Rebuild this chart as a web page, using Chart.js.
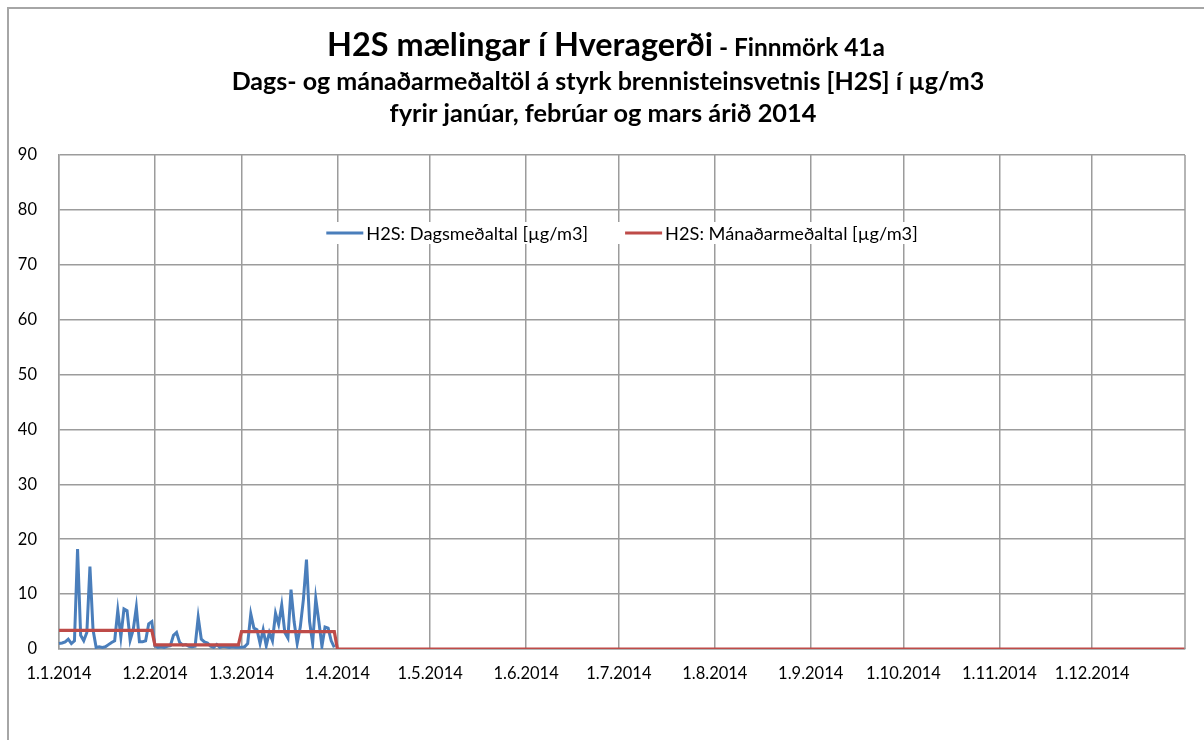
<!DOCTYPE html>
<html>
<head>
<meta charset="utf-8">
<script src="https://cdn.jsdelivr.net/npm/chart.js@4/dist/chart.umd.min.js"></script>
<style>
  body { margin: 0; background: #fff; }
  canvas { display: block; }
</style>
</head>
<body>
<canvas id="myChart" width="1204" height="740"></canvas>
<script>
// texts
const titleMain = 'H2S mælingar í Hveragerði';
const titleSite = ' - Finnmörk 41a';
const subTitles = [
    'Dags- og mánaðarmeðaltöl á styrk brennisteinsvetnis [H2S] í µg/m3',
    'fyrir janúar, febrúar og mars árið 2014'
];
const seriesNames = ['H2S: Dagsmeðaltal [µg/m3]', 'H2S: Mánaðarmeðaltal [µg/m3]'];

// categories
const year = 2014;
const monthDays = [31, 28, 31, 30, 31, 30, 31, 31, 30, 31, 30, 31];
const yTicks = [0, 10, 20, 30, 40, 50, 60, 70, 80, 90];

const janDaily = [1.0, 1.1, 1.3, 1.8, 1.0, 1.5, 18.2, 2.5, 1.5, 3.0, 15.0, 3.5, 0.3, 0.4, 0.3, 0.4,
                  0.8, 1.2, 1.5, 7.0, 2.2, 7.3, 7.0, 1.6, 3.5, 7.6, 1.3, 1.3, 1.5, 4.6, 5.0];
const febDaily = [0.6, 0.3, 0.4, 0.3, 0.5, 0.6, 2.5, 3.0, 1.2, 0.7, 0.8, 0.5, 0.4, 0.5,
                  5.8, 1.8, 1.3, 1.1, 0.5, 0.3, 0.8, 0.3, 0.5, 0.4, 0.3, 0.4, 0.3, 0.3];
const marDaily = [0.3, 0.4, 1.0, 6.4, 3.8, 3.5, 1.0, 3.5, 0.6, 3.0, 1.5, 6.5, 4.5, 8.0, 3.0, 2.0,
                  10.8, 5.0, 1.0, 4.0, 9.0, 16.3, 5.0, 1.0, 9.2, 5.0, 0.5, 4.0, 3.8, 1.5, 0.3];
// monthly means
const monthlyMean = [3.4, 0.75, 3.15, 0, 0, 0, 0, 0, 0, 0, 0, 0];

const fontFamily = 'Lato, "Open Sans", sans-serif';
const blue = '#4a7ebb';
const red = '#be4b48';
const gridColor = '#9c9c9c';

let dayLabels = [];
let dayMonth = [];
monthDays.forEach((n, m) => {
    for (let d = 1; d <= n; d++) {
        dayLabels.push(d + '.' + (m + 1) + '.' + year);
        dayMonth.push(m);
    }
});
const measured = janDaily.concat(febDaily, marDaily);
const dailySeries = dayLabels.map((l, i) => i < measured.length ? measured[i] : null);
const monthlySeries = dayMonth.map(m => monthlyMean[m]);

// font size that makes text fill a given width
function fitFont(ctx, text, weight, width) {
    ctx.font = weight + ' 100px ' + fontFamily;
    const size = 100 * width / ctx.measureText(text).width;
    return weight + ' ' + size.toFixed(2) + 'px ' + fontFamily;
}

const decorations = {
    id: 'decorations',
    beforeDraw(chart) {
        const ctx = chart.ctx;
        ctx.save();
        ctx.fillStyle = '#fff';
        ctx.fillRect(0, 0, chart.width, chart.height);
        ctx.restore();
    },
    afterDraw(chart) {
        const ctx = chart.ctx;
        const area = chart.chartArea;
        ctx.save();

        // right edge of plot area
        ctx.strokeStyle = gridColor;
        ctx.lineWidth = 1.5;
        ctx.beginPath();
        ctx.moveTo(area.right, area.top);
        ctx.lineTo(area.right, area.bottom);
        ctx.stroke();

        // outer chart frame (top + left)
        ctx.strokeStyle = '#a6a6a6';
        ctx.lineWidth = 2;
        ctx.beginPath();
        ctx.moveTo(8, chart.height);
        ctx.lineTo(8, 8);
        ctx.lineTo(chart.width, 8);
        ctx.stroke();

        // titles
        ctx.fillStyle = '#000';
        ctx.textBaseline = 'alphabetic';
        ctx.textAlign = 'left';
        const mainFont = fitFont(ctx, titleMain, 'bold', 386);
        const siteFont = fitFont(ctx, titleSite, 'bold', 172);
        ctx.font = mainFont;
        const w1 = ctx.measureText(titleMain).width;
        ctx.font = siteFont;
        const w2 = ctx.measureText(titleSite).width;
        let x = 606 - (w1 + w2) / 2;
        ctx.font = mainFont;
        ctx.fillText(titleMain, x, 56);
        ctx.font = siteFont;
        ctx.fillText(titleSite, x + w1, 56);

        ctx.textAlign = 'center';
        ctx.font = fitFont(ctx, subTitles[0], 'bold', 753);
        ctx.fillText(subTitles[0], 608, 90);
        ctx.font = fitFont(ctx, subTitles[1], 'bold', 427);
        ctx.fillText(subTitles[1], 603, 122);

        // legend inside the plot
        const ds = chart.data.datasets;
        ctx.font = fitFont(ctx, ds[0].label, 'normal', 222);
        const sample = 37, gapText = 3, gapItem = 37;
        const widths = ds.map(d => ctx.measureText(d.label).width);
        const total = widths.reduce((a, b) => a + b, 0) + ds.length * (sample + gapText) + gapItem * (ds.length - 1);
        let lx = (area.left + area.right) / 2 - total / 2;
        const ly = area.top + 78;
        ctx.fillStyle = '#fff';
        ctx.fillRect(lx - 8, ly - 11, total + 16, 22);
        ctx.textAlign = 'left';
        ctx.textBaseline = 'middle';
        ds.forEach((d, i) => {
            ctx.strokeStyle = d.borderColor;
            ctx.lineWidth = 3;
            ctx.beginPath();
            ctx.moveTo(lx, ly);
            ctx.lineTo(lx + sample, ly);
            ctx.stroke();
            ctx.fillStyle = '#000';
            ctx.fillText(d.label, lx + sample + gapText, ly + 1);
            lx += sample + gapText + widths[i] + gapItem;
        });
        ctx.restore();
    }
};

function chart () {
    const ctx = document.getElementById('myChart').getContext('2d');
    new Chart(ctx, {
        type: 'line',
        data: {
            labels: dayLabels,
            datasets: [
                {
                    label: seriesNames[0],
                    data: dailySeries,
                    borderColor: blue,
                    borderWidth: 3,
                    pointRadius: 0,
                    tension: 0,
                    order: 2
                },
                {
                    label: seriesNames[1],
                    data: monthlySeries,
                    borderColor: red,
                    borderWidth: 3.2,
                    pointRadius: 0,
                    tension: 0,
                    order: 1
                }
            ]
        },
        options: {
            responsive: false,
            animation: false,
            layout: { padding: { top: 155, right: 19, left: 0, bottom: 0 } },
            plugins: {
                legend: { display: false },
                title: { display: false },
                tooltip: { enabled: false }
            },
            scales: {
                x: {
                    grid: { color: gridColor, lineWidth: 1.5, drawTicks: false },
                    border: { color: gridColor, width: 1.5 },
                    ticks: {
                        autoSkip: false,
                        maxRotation: 0,
                        padding: 15,
                        color: '#000',
                        font: { family: fontFamily, size: 16.5 },
                        callback: function (v) {
                            const l = this.getLabelForValue(v);
                            return l.startsWith('1.') ? l : null;
                        }
                    },
                    afterFit: function (s) { s.height = 91; }
                },
                y: {
                    min: yTicks[0],
                    max: yTicks[yTicks.length - 1],
                    grid: { color: gridColor, lineWidth: 1.5, drawTicks: false },
                    border: { color: gridColor, width: 1.5 },
                    ticks: {
                        stepSize: yTicks[1] - yTicks[0],
                        padding: 22,
                        color: '#000',
                        font: { family: fontFamily, size: 16.5 }
                    },
                    afterFit: function (s) { s.width = 59; }
                }
            }
        },
        plugins: [decorations]
    });
}

window.onload = chart;
</script>
</body>
</html>
